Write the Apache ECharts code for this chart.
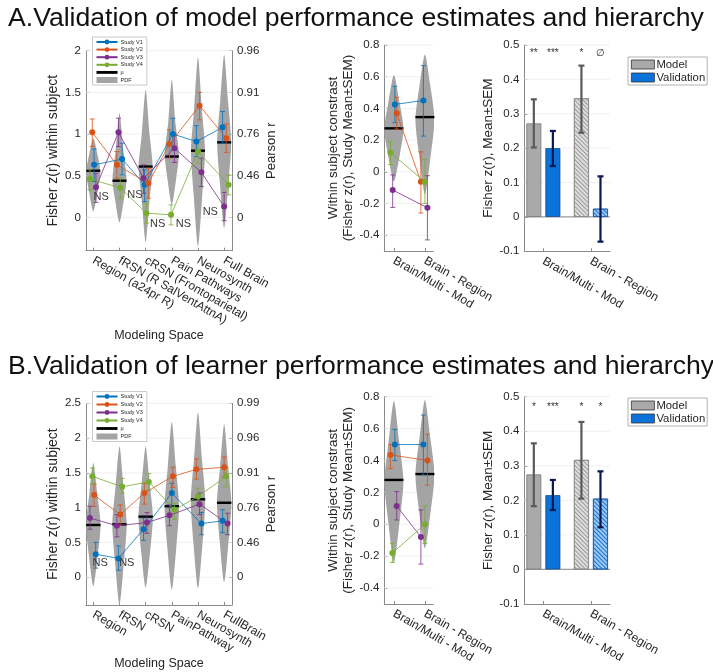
<!DOCTYPE html>
<html><head><meta charset="utf-8">
<script src="https://cdn.jsdelivr.net/npm/echarts@6/dist/echarts.min.js"></script>
<style>html,body{margin:0;padding:0;background:#fff}#c{width:713px;height:672px}</style>
</head><body><div id="c"></div>
<script>
// ---------------- DATA ----------------
const studyNames = ['Study V1', 'Study V2', 'Study V3', 'Study V4'];
const spaceCatsA = ['Region (a24pr R)', 'fRSN (R SalVentAttnA)', 'cRSN (Frontoparietal)', 'Pain Pathways', 'Neurosynth', 'Full Brain'];
const spaceCatsB = ['Region', 'fRSN', 'cRSN', 'PainPathway', 'Neurosynth', 'FullBrain'];
const contrastCats = ['Brain/Multi - Mod', 'Brain - Region'];
const zTicksA = [0, 0.5, 1, 1.5, 2];
const pearsonLabelsA = ['0', '0.46', '0.76', '0.91', '0.96'];
const zTicksB = [0, 0.5, 1, 1.5, 2, 2.5];
const pearsonLabelsB = ['0', '0.46', '0.76', '0.91', '0.96', '0.99'];
const contrastTicks = [-0.4, -0.2, 0, 0.2, 0.4, 0.6, 0.8];
const barTicks = [-0.1, 0, 0.1, 0.2, 0.3, 0.4, 0.5];

// A: modeling space, per study [mean, upper, lower] for each space
const spaceA_V1 = [[0.63, 0.82, 0.43], [0.70, 0.89, 0.51], [0.39, 0.57, 0.19], [1.00, 1.19, 0.81], [0.91, 1.10, 0.73], [1.08, 1.27, 0.89]];
const spaceA_V2 = [[1.02, 1.18, 0.85], [0.63, 0.79, 0.47], [0.41, 0.59, 0.23], [0.88, 1.05, 0.71], [1.34, 1.50, 1.17], [0.95, 1.12, 0.78]];
const spaceA_V3 = [[0.36, 0.53, 0.18], [1.02, 1.19, 0.85], [0.47, 0.63, 0.29], [0.83, 0.99, 0.66], [0.54, 0.71, 0.37], [0.13, 0.30, -0.04]];
const spaceA_V4 = [[0.46, 0.57, 0.33], [0.355, 0.47, 0.23], [0.05, 0.17, -0.07], [0.03, 0.15, -0.09], [0.79, 0.91, 0.65], [0.39, 0.51, 0.27]];
const spaceA_mu = [0.56, 0.44, 0.61, 0.73, 0.80, 0.90];
// PDF outline: [z, relative width]
const spaceA_pdf = [
  [[0.07, 0], [0.30, 0.6], [0.55, 1], [0.75, 0.6], [0.95, 0]],
  [[-0.06, 0], [0.20, 0.6], [0.45, 1], [0.80, 0.55], [1.25, 0]],
  [[-0.30, 0], [0.20, 0.55], [0.60, 1], [1.00, 0.55], [1.53, 0]],
  [[0.15, 0], [0.45, 0.6], [0.75, 1], [1.15, 0.5], [1.65, 0]],
  [[-0.35, 0], [0.25, 0.6], [0.80, 1], [1.30, 0.55], [1.92, 0]],
  [[-0.13, 0], [0.40, 0.6], [0.90, 1], [1.40, 0.55], [1.95, 0]]
];
const spaceA_ns = [[1.3, 0.25], [2.59, 0.27], [3.46, -0.075], [4.44, -0.075], [5.47, 0.06]];

// A: within subject contrast
const contrastA_V1 = [[0.425, 0.54, 0.31], [0.45, 0.67, 0.225]];
const contrastA_V2 = [[0.37, 0.47, 0.27], [-0.063, 0.126, -0.26]];
const contrastA_V3 = [[-0.115, -0.02, -0.225], [-0.227, -0.025, -0.43]];
const contrastA_V4 = [[0.12, 0.19, 0.046], [-0.063, 0.078, -0.2]];
const contrastA_mu = [0.274, 0.345];
const contrastA_pdf = [
  [[-0.06, 0], [0.10, 0.6], [0.27, 1], [0.45, 0.55], [0.61, 0]],
  [[-0.14, 0], [0.10, 0.6], [0.33, 1], [0.55, 0.55], [0.74, 0]]
];

// A: bars [mean, lower, upper]
const barA_model = [[0.272, 0.202, 0.342], [0.345, 0.245, 0.44]];
const barA_valid = [[0.20, 0.148, 0.25], [0.024, -0.072, 0.118]];
const sigA = ['**', '***', '*', '\u2205'];

// B: modeling space
const spaceB_V1 = [[0.33, 0.50, 0.13], [0.27, 0.45, 0.10], [0.69, 0.85, 0.53], [1.21, 1.35, 1.02], [0.77, 0.93, 0.61], [0.81, 0.97, 0.64]];
const spaceB_V2 = [[1.18, 1.34, 1.02], [0.90, 1.04, 0.75], [1.21, 1.35, 1.05], [1.45, 1.58, 1.29], [1.55, 1.70, 1.41], [1.58, 1.73, 1.44]];
const spaceB_V3 = [[0.85, 1.02, 0.69], [0.74, 0.90, 0.58], [0.785, 0.93, 0.63], [0.89, 1.04, 0.74], [1.05, 1.21, 0.90], [0.77, 0.92, 0.61]];
const spaceB_V4 = [[1.45, 1.57, 1.34], [1.30, 1.42, 1.21], [1.37, 1.49, 1.25], [0.97, 1.06, 0.83], [1.16, 1.28, 1.05], [1.45, 1.57, 1.30]];
const spaceB_mu = [0.75, 0.76, 0.87, 1.02, 1.12, 1.07];
const spaceB_pdf = [
  [[-0.13, 0], [0.30, 0.6], [0.75, 1], [1.20, 0.55], [1.64, 0]],
  [[-0.39, 0], [0.20, 0.6], [0.76, 1], [1.30, 0.55], [1.88, 0]],
  [[-0.15, 0], [0.35, 0.6], [0.87, 1], [1.35, 0.55], [1.88, 0]],
  [[-0.18, 0], [0.40, 0.6], [1.02, 1], [1.60, 0.55], [2.23, 0]],
  [[-0.16, 0], [0.45, 0.6], [1.10, 1], [1.70, 0.55], [2.37, 0]],
  [[-0.07, 0], [0.50, 0.6], [1.07, 1], [1.60, 0.55], [2.20, 0]]
];
const spaceB_ns = [[1.26, 0.21], [2.28, 0.20]];

// B: within subject contrast
const contrastB_V1 = [[0.50, 0.595, 0.40], [0.50, 0.685, 0.31]];
const contrastB_V2 = [[0.435, 0.50, 0.35], [0.40, 0.565, 0.245]];
const contrastB_V3 = [[0.115, 0.205, 0.027], [-0.08, 0.09, -0.25]];
const contrastB_V4 = [[-0.18, -0.12, -0.24], [0.0, 0.115, -0.12]];
const contrastB_mu = [0.278, 0.315];
const contrastB_pdf = [
  [[-0.24, 0], [0.02, 0.6], [0.27, 1], [0.52, 0.55], [0.775, 0]],
  [[-0.15, 0], [0.08, 0.6], [0.31, 1], [0.55, 0.55], [0.78, 0]]
];

// B: bars
const barB_model = [[0.275, 0.183, 0.365], [0.317, 0.205, 0.427]];
const barB_valid = [[0.215, 0.172, 0.259], [0.205, 0.122, 0.284]];
const sigB = ['*', '***', '*', '*'];

// ---------------- STYLE ----------------
const FONT = '"Liberation Sans", Arial, sans-serif';
const COLORS = ['#0072BD', '#D95319', '#7E2F8E', '#77AC30'];
const AXC = '#8a8a8a', TXT = '#262626', GRIDC = '#ececec', VIOLIN = '#a4a4a4';
const JIT_SPACE_A = [[0.03, 0.1, -0.04, 0.04, -0.06, -0.06], [-0.04, -0.1, 0.1, -0.09, 0.06, 0.08], [0.1, -0.04, -0.08, 0.1, 0.13, 0], [-0.13, 0.03, 0.03, -0.03, 0, 0.17]];
const JIT_SPACE_B = [[0.09, -0.04, -0.08, 0, 0.13, -0.06], [0.03, 0.03, -0.05, 0.04, -0.06, 0], [-0.13, -0.1, 0.05, -0.09, 0.06, 0.13], [-0.04, 0.1, 0.12, 0.1, 0, 0.08]];
const JIT_CON_A = [[0.03, -0.05], [0.09, -0.13], [-0.04, 0.08], [-0.11, 0]];
const JIT_CON_B = [[0.03, -0.05], [-0.11, 0.08], [0.09, -0.13], [-0.05, 0]];
const BAR_OFF = 0.2;

const grids = [
  { left: 86, top: 50.7, width: 146, height: 200 },
  { left: 384.3, top: 45, width: 49, height: 206 },
  { left: 524.3, top: 45, width: 85.7, height: 206.3 },
  { left: 86, top: 403.3, width: 146, height: 201.7 },
  { left: 384.3, top: 396.7, width: 49, height: 207.3 },
  { left: 524.3, top: 396.7, width: 85.7, height: 207.3 }
];

function lab(ticks, labels) {
  return v => { const i = ticks.findIndex(t => Math.abs(t - v) < 1e-9); return i >= 0 ? labels[i] : ''; };
}
function xAx(gi, min, max, labels, name, nameGap) {
  const ticks = labels.map((_, i) => i + 1);
  return {
    type: 'value', gridIndex: gi, min, max,
    axisLine: { show: true, onZero: false, lineStyle: { color: AXC, width: 1 } },
    axisTick: { show: true, inside: true, length: 3, customValues: ticks, lineStyle: { color: AXC } },
    axisLabel: { customValues: ticks, formatter: lab(ticks, labels), rotate: -30, margin: 9, fontSize: 12, color: TXT, fontFamily: FONT },
    splitLine: { show: false },
    name: name || '', nameLocation: 'middle', nameGap: nameGap || 0,
    nameTextStyle: { fontSize: 12.5, color: TXT, fontFamily: FONT }
  };
}
function yAx(gi, min, max, ticks, labels, name, nameGap, pos, nameSize) {
  const o = {
    type: 'value', gridIndex: gi, min, max, position: pos || 'left',
    axisLine: { show: true, onZero: false, lineStyle: { color: AXC, width: 1 } },
    axisTick: { show: true, inside: true, length: 3, customValues: ticks, lineStyle: { color: AXC } },
    axisLabel: { customValues: ticks, margin: 5, fontSize: 11.5, color: TXT, fontFamily: FONT },
    splitLine: { show: false },
    name: name, nameLocation: 'middle', nameGap: nameGap, nameRotate: 90,
    nameTextStyle: { fontSize: nameSize || 13.5, color: TXT, fontFamily: FONT, lineHeight: 15 }
  };
  if (labels) o.axisLabel.formatter = lab(ticks, labels);
  return o;
}

const series = [];
function gridLines(xi, yi, xmin, ticks, zeroDark) {
  series.push({
    type: 'custom', xAxisIndex: xi, yAxisIndex: yi, silent: true, z: 1,
    data: ticks.map(v => [xmin, v]),
    renderItem: (params, api) => {
      const c = params.coordSys;
      const y = api.coord([api.value(0), api.value(1)])[1];
      const dark = zeroDark && Math.abs(api.value(1)) < 1e-9;
      return { type: 'line', shape: { x1: c.x, y1: y, x2: c.x + c.width, y2: y }, style: { stroke: dark ? '#9a9a9a' : GRIDC, lineWidth: dark ? 1.2 : 0.8 } };
    }
  });
}
function violinPanel(xi, yi, studies, jit, mu, pdf, hw, ns) {
  series.push({
    type: 'custom', name: 'PDF', xAxisIndex: xi, yAxisIndex: yi, z: 2, clip: true, silent: true,
    itemStyle: { color: VIOLIN },
    data: pdf.map((p, k) => [k + 1, p[p.length - 1][0], k]),
    renderItem: (params, api) => {
      const k = api.value(2), x = api.value(0), prof = pdf[k];
      const cx = api.coord([x, 0])[0];
      const R = prof.map(([y, w]) => [cx + w * hw, api.coord([x, y])[1]]);
      const L = prof.slice(1, -1).reverse().map(([y, w]) => [cx - w * hw, api.coord([x, y])[1]]);
      return { type: 'polygon', shape: { points: R.concat(L), smooth: 0.25 }, style: { fill: VIOLIN } };
    }
  });
  series.push({
    type: 'custom', name: '\u03bc', xAxisIndex: xi, yAxisIndex: yi, z: 3, silent: true,
    itemStyle: { color: '#000' },
    data: mu.map((m, k) => [k + 1, m]),
    renderItem: (params, api) => {
      const p = api.coord([api.value(0), api.value(1)]);
      return { type: 'line', shape: { x1: p[0] - hw, y1: p[1], x2: p[0] + hw, y2: p[1] }, style: { stroke: '#000', lineWidth: 2.4 } };
    }
  });
  studies.forEach((st, s) => {
    series.push({
      type: 'custom', xAxisIndex: xi, yAxisIndex: yi, z: 4, silent: true,
      data: st.map((d, k) => [k + 1 + jit[s][k], d[1], d[2]]),
      renderItem: (params, api) => {
        const a = api.coord([api.value(0), api.value(1)]);
        const b = api.coord([api.value(0), api.value(2)]);
        const st2 = { stroke: COLORS[s], lineWidth: 0.8 };
        return { type: 'group', children: [
          { type: 'line', shape: { x1: a[0], y1: a[1], x2: b[0], y2: b[1] }, style: st2 },
          { type: 'line', shape: { x1: a[0] - 2.5, y1: a[1], x2: a[0] + 2.5, y2: a[1] }, style: st2 },
          { type: 'line', shape: { x1: b[0] - 2.5, y1: b[1], x2: b[0] + 2.5, y2: b[1] }, style: st2 }
        ] };
      }
    });
    series.push({
      type: 'line', name: studyNames[s], xAxisIndex: xi, yAxisIndex: yi, z: 5, silent: true,
      data: st.map((d, k) => [k + 1 + jit[s][k], d[0]]),
      symbol: 'circle', symbolSize: 6, showSymbol: true, animation: false,
      itemStyle: { color: COLORS[s] }, lineStyle: { color: COLORS[s], width: 0.8 }
    });
  });
  if (ns) {
    series.push({
      type: 'custom', xAxisIndex: xi, yAxisIndex: yi, z: 6, silent: true,
      data: ns,
      renderItem: (params, api) => {
        const p = api.coord([api.value(0), api.value(1)]);
        return { type: 'text', x: p[0], y: p[1], style: { text: 'NS', fill: '#3a3a3a', font: '11px ' + FONT, align: 'center', verticalAlign: 'middle' } };
      }
    });
  }
}
const HATCH_M = { color: '#dedede', borderColor: '#8a8a8a', borderWidth: 0.8,
  decal: { symbol: 'rect', symbolSize: 1, dashArrayX: [1, 0], dashArrayY: [1, 2], rotation: Math.PI / 4, color: '#9a9a9a' } };
const HATCH_V = { color: '#9cc7f0', borderColor: '#1f5fa8', borderWidth: 0.8,
  decal: { symbol: 'rect', symbolSize: 1, dashArrayX: [1, 0], dashArrayY: [1, 2], rotation: Math.PI / 4, color: '#1a73d0' } };
function barPanel(xi, yi, model, valid, sig, sigY) {
  series.push({
    type: 'bar', name: 'Model', xAxisIndex: xi, yAxisIndex: yi, z: 3, barWidth: 15, barGap: '-100%', silent: true,
    itemStyle: { color: '#a9a9a9', borderColor: '#7a7a7a', borderWidth: 0.8 },
    data: model.map((d, k) => k === 1 ? { value: [k + 1 - BAR_OFF, d[0]], itemStyle: HATCH_M } : [k + 1 - BAR_OFF, d[0]])
  });
  series.push({
    type: 'bar', name: 'Validation', xAxisIndex: xi, yAxisIndex: yi, z: 3, barWidth: 15, barGap: '-100%', silent: true,
    itemStyle: { color: '#0a72d8', borderColor: '#174f8f', borderWidth: 0.8 },
    data: valid.map((d, k) => k === 1 ? { value: [k + 1 + BAR_OFF, d[0]], itemStyle: HATCH_V } : [k + 1 + BAR_OFF, d[0]])
  });
  const errs = [];
  model.forEach((d, k) => errs.push([k + 1 - BAR_OFF, d[1], d[2], 0]));
  valid.forEach((d, k) => errs.push([k + 1 + BAR_OFF, d[1], d[2], 1]));
  series.push({
    type: 'custom', xAxisIndex: xi, yAxisIndex: yi, z: 5, silent: true, data: errs,
    renderItem: (params, api) => {
      const a = api.coord([api.value(0), api.value(1)]);
      const b = api.coord([api.value(0), api.value(2)]);
      const st = { stroke: api.value(3) === 0 ? '#5a5a5a' : '#0b1850', lineWidth: 2.2 };
      return { type: 'group', children: [
        { type: 'line', shape: { x1: a[0], y1: a[1], x2: b[0], y2: b[1] }, style: st },
        { type: 'line', shape: { x1: a[0] - 3, y1: a[1], x2: a[0] + 3, y2: a[1] }, style: st },
        { type: 'line', shape: { x1: b[0] - 3, y1: b[1], x2: b[0] + 3, y2: b[1] }, style: st }
      ] };
    }
  });
  const sx = [1 - BAR_OFF, 1 + BAR_OFF, 2 - BAR_OFF, 2 + BAR_OFF];
  series.push({
    type: 'custom', xAxisIndex: xi, yAxisIndex: yi, z: 6, silent: true,
    data: sig.map((t, i) => [sx[i], sigY, i]),
    renderItem: (params, api) => {
      const p = api.coord([api.value(0), api.value(1)]);
      return { type: 'text', x: p[0], y: p[1], style: { text: sig[api.value(2)], fill: '#333', font: '10px ' + FONT, align: 'center', verticalAlign: 'middle' } };
    }
  });
}

// axes
const xAxis = [
  xAx(0, 0.72, 6.3, spaceCatsA, 'Modeling Space', 75),
  xAx(1, 0.69, 2.27, contrastCats),
  xAx(2, 0.6, 2.4, contrastCats),
  xAx(3, 0.72, 6.3, spaceCatsB, 'Modeling Space', 50),
  xAx(4, 0.69, 2.27, contrastCats),
  xAx(5, 0.6, 2.4, contrastCats)
];
const yAxis = [
  yAx(0, -0.4, 2, zTicksA, null, 'Fisher z(r) within subject', 23, 'left', 14),
  yAx(0, -0.4, 2, zTicksA, pearsonLabelsA, 'Pearson r', 32, 'right', 13),
  yAx(1, -0.5, 0.8, contrastTicks, null, 'Within subject constrast\n(Fisher z(r), Study Mean\u00b1SEM)', 26),
  yAx(2, -0.1, 0.5, barTicks, null, 'Fisher z(r), Mean\u00b1SEM', 26),
  yAx(3, -0.4, 2.5, zTicksB, null, 'Fisher z(r) within subject', 23, 'left', 14),
  yAx(3, -0.4, 2.5, zTicksB, pearsonLabelsB, 'Pearson r', 32, 'right', 13),
  yAx(4, -0.5, 0.8, contrastTicks, null, 'Within subject constrast\n(Fisher z(r), Study Mean\u00b1SEM)', 26),
  yAx(5, -0.1, 0.5, barTicks, null, 'Fisher z(r), Mean\u00b1SEM', 26)
];

gridLines(0, 0, 1, zTicksA);
gridLines(1, 2, 1, contrastTicks);
gridLines(2, 3, 1, barTicks.slice(1), true);
gridLines(3, 4, 1, zTicksB);
gridLines(4, 6, 1, contrastTicks);
gridLines(5, 7, 1, barTicks.slice(1), true);

violinPanel(0, 0, [spaceA_V1, spaceA_V2, spaceA_V3, spaceA_V4], JIT_SPACE_A, spaceA_mu, spaceA_pdf, 7, spaceA_ns);
violinPanel(1, 2, [contrastA_V1, contrastA_V2, contrastA_V3, contrastA_V4], JIT_CON_A, contrastA_mu, contrastA_pdf, 9.5);
barPanel(2, 3, barA_model, barA_valid, sigA, 0.476);
violinPanel(3, 4, [spaceB_V1, spaceB_V2, spaceB_V3, spaceB_V4], JIT_SPACE_B, spaceB_mu, spaceB_pdf, 7.2, spaceB_ns);
violinPanel(4, 6, [contrastB_V1, contrastB_V2, contrastB_V3, contrastB_V4], JIT_CON_B, contrastB_mu, contrastB_pdf, 9.5);
barPanel(5, 7, barB_model, barB_valid, sigB, 0.47);

function studyLegend(top, gap) {
  return {
    orient: 'vertical', left: 92.5, top: top, z: 20, selectedMode: false,
    itemWidth: 21, itemHeight: 6, itemGap: gap, padding: [2, 4, 2, 3],
    backgroundColor: '#fff', borderColor: '#bdbdbd', borderWidth: 0.8,
    textStyle: { fontSize: 5.5, color: TXT, fontFamily: FONT, padding: [0, 0, 0, -2] },
    data: studyNames.concat([{ name: '\u03bc', icon: 'path://M0 0H22V3H0Z' }, { name: 'PDF', icon: 'rect' }])
  };
}
function barLegend(top) {
  return {
    orient: 'vertical', left: 628, top: top, z: 20, selectedMode: false,
    itemWidth: 23, itemHeight: 9, itemGap: 2, padding: [2, 2, 2, 3],
    backgroundColor: '#fff', borderColor: '#a0a0a0', borderWidth: 0.8,
    itemStyle: { borderColor: '#333', borderWidth: 0.8 },
    textStyle: { fontSize: 11.3, color: TXT, fontFamily: FONT, padding: [0, 0, 0, -3], lineHeight: 10.5 },
    data: [{ name: 'Model', icon: 'rect' }, { name: 'Validation', icon: 'rect' }]
  };
}

const chart = echarts.init(document.getElementById('c'), null, { renderer: 'canvas' });
chart.setOption({
  animation: false,
  backgroundColor: '#fff',
  textStyle: { fontFamily: FONT },
  title: [
    { text: 'A.Validation of model performance estimates and hierarchy', left: 8, top: 5, padding: 0,
      textStyle: { fontSize: 26.6, fontWeight: 'normal', color: '#111', fontFamily: FONT } },
    { text: 'B.Validation of learner performance estimates and hierarchy', left: 8, top: 353, padding: 0,
      textStyle: { fontSize: 26.6, fontWeight: 'normal', color: '#111', fontFamily: FONT } }
  ],
  legend: [studyLegend(37, 1.6), barLegend(57), studyLegend(391.5, 2), barLegend(398)],
  grid: grids,
  xAxis: xAxis,
  yAxis: yAxis,
  series: series
});
</script></body></html>
